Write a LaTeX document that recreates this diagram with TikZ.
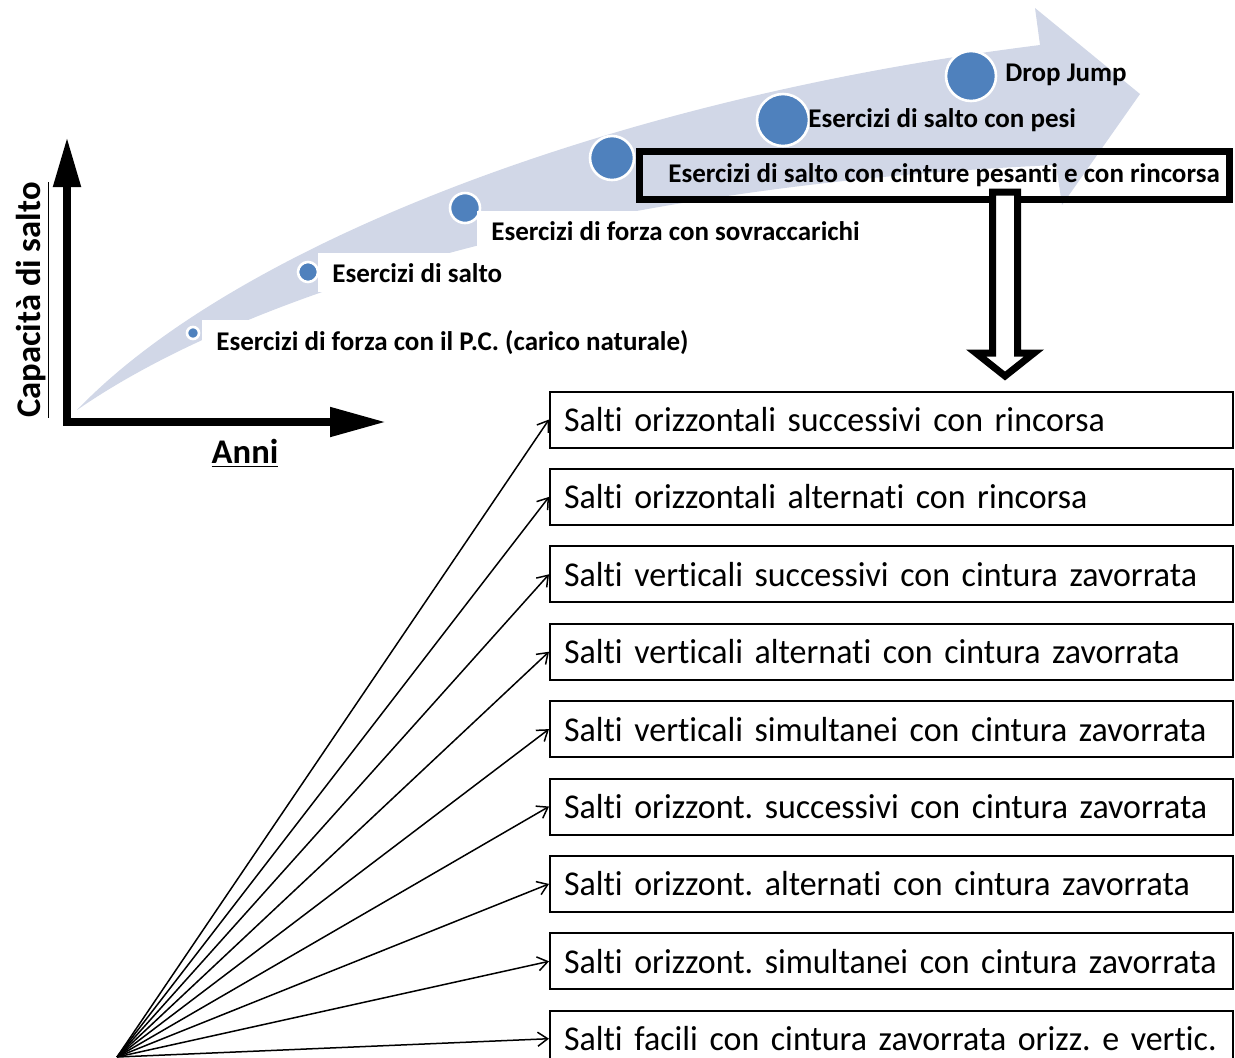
\documentclass[tikz,border=0pt]{standalone}
\usepackage{fontspec}
\setmainfont[Ligatures=NoCommon]{Carlito}
\newfontfamily\boxfont[Ligatures=NoCommon,WordSpace=0.6,FakeStretch=0.975]{Carlito}
\usetikzlibrary{arrows.meta}
\definecolor{ribbon}{RGB}{209,215,231}
\definecolor{dotblue}{RGB}{79,129,189}
\frenchspacing
\begin{document}
\begin{tikzpicture}[x=0.5pt,y=-0.5pt,
  dot/.style={circle,fill=dotblue,draw=white,line width=1.3pt,inner sep=0pt},
  toplbl/.style={anchor=base west,font=\bfseries\fontsize{13.5}{15}\selectfont,inner xsep=0pt,inner ysep=0pt},
  whitelbl/.style={toplbl,fill=white,inner xsep=7pt,inner ysep=5pt},
  axislbl/.style={font=\bfseries\fontsize{17.3}{20}\selectfont},
  lbox/.style={draw,line width=1pt,anchor=west,minimum height=28pt,text width=327.5pt,
    inner xsep=7pt,align=left,text height=12pt,text depth=0pt,font=\boxfont\fontsize{17.4}{20}\selectfont},
  bigbox/.style={draw,line width=3.5pt,minimum width=295pt,minimum height=24pt,inner sep=0pt},
  fanarrow/.style={line width=0.75pt,-{Straight Barb[length=5pt,width=7pt]}},
  axis/.style={line width=4pt,line join=miter}
]
\useasboundingbox (0,0) rectangle (1235,1057);

% ribbon arrow
\fill[ribbon] (77,410) .. controls (230,250) and (600,100) .. (1040,45) -- (1035,8) -- (1140,94)
  -- (1062,205) -- (1056,165) .. controls (600,185) and (250,290) .. (77,410) -- cycle;

% axes
\coordinate (O) at (67,422);
\coordinate (ytip) at (67,137);
\coordinate (xtip) at (386,422);
\draw[axis,{Triangle[length=25pt,width=13pt]}-{Triangle[length=28pt,width=14pt]}] (ytip) -- (O) -- (xtip);
\node[axislbl,rotate=90] (ylab) at (33,300) {\underline{Capacità di salto}};
\node[axislbl] (xlab) at (245,453) {\underline{Anni}};

% dots
\node[dot,minimum size=25pt] (c1) at (971,76) {};
\node[dot,minimum size=26pt] (c2) at (783,120) {};
\node[dot,minimum size=22pt] (c3) at (612,158) {};
\node[dot,minimum size=15pt] (c4) at (465,208) {};
\node[dot,minimum size=10pt] (c5) at (308,272) {};
\node[dot,minimum size=6pt] (c6) at (193,333) {};

% labels
\node[toplbl] (L1) at (1005,81) {Drop Jump};
\node[toplbl] (L2) at (808,127) {Esercizi di salto con pesi};
\node[bigbox] (box3) at (934.5,175.5) {};
\node[toplbl] (L3) at (668,182) {Esercizi di salto con cinture pesanti e con rincorsa};
\node[whitelbl] (L4) at (477,240) {Esercizi di forza con sovraccarichi};
\node[whitelbl] (L5) at (318,282) {Esercizi di salto};
\node[whitelbl] (L6) at (202,350) {Esercizi di forza con il P.C. (carico naturale)};

% lower boxes
\node[lbox] (b1) at (549,419.5) {\mbox{Salti orizzontali successivi con rincorsa}};
\node[lbox] (b2) at (549,496.9) {\mbox{Salti orizzontali alternati con rincorsa}};
\node[lbox] (b3) at (549,574.3) {\mbox{Salti verticali successivi con cintura zavorrata}};
\node[lbox] (b4) at (549,651.7) {\mbox{Salti verticali alternati con cintura zavorrata}};
\node[lbox] (b5) at (549,729.1) {\mbox{Salti verticali simultanei con cintura zavorrata}};
\node[lbox] (b6) at (549,806.5) {\mbox{Salti orizzont. successivi con cintura zavorrata}};
\node[lbox] (b7) at (549,883.9) {\mbox{Salti orizzont. alternati con cintura zavorrata}};
\node[lbox] (b8) at (549,961.3) {\mbox{Salti orizzont. simultanei con cintura zavorrata}};
\node[lbox] (b9) at (549,1038.7) {\mbox{Salti facili con cintura zavorrata orizz. e vertic.}};

% hollow down arrow
\draw[line width=3.5pt,line join=miter,fill=white] (992.5,192) -- (992.5,353) -- (976,353) -- (1005,376)
  -- (1034,353) -- (1017.5,353) -- (1017.5,192) -- cycle;

% fan
\coordinate (fan) at (117,1057);
\foreach \b in {b1,b2,b3,b4,b5,b6,b7,b8,b9}
  \draw[fanarrow] (fan) -- (\b.west);
\end{tikzpicture}
\end{document}
